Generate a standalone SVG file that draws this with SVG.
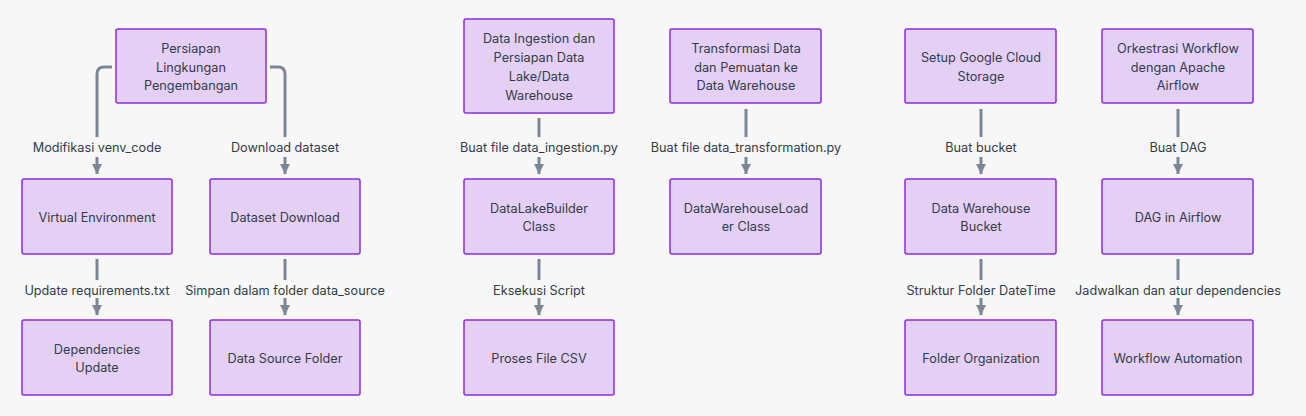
<svg xmlns="http://www.w3.org/2000/svg" width="1306" height="416" viewBox="0 0 1306 416">
<defs>
<marker id="ah" viewBox="0 0 10 10" refX="10" refY="5" markerWidth="10" markerHeight="10" markerUnits="userSpaceOnUse" orient="auto">
<path d="M0,0 L10,5 L0,10 z" fill="#7b8794"/>
</marker>
<style>
.bg{fill:#f7f7f7}
.node rect{fill:#e4d0f4;stroke:#8a2be2;stroke-width:1.5}
.node text,.lbl{font-family:Inter,"Noto Sans",sans-serif;font-size:12.7px;fill:#333b4a;text-anchor:middle;dominant-baseline:central}
.edges path{fill:none;stroke:#7b8794;stroke-width:3}
.edges path.a{marker-end:url(#ah)}
</style>
</defs>
<rect class="bg" x="0" y="0" width="1306" height="416"/>
<g id="edges" class="edges">
<path d="M112,67 L104,67 Q97,67 97,74 L97,137"/>
<path class="a" d="M97,157 L97,174"/>
<path d="M270,67 L278,67 Q285,67 285,74 L285,137"/>
<path class="a" d="M285,157 L285,174"/>
<path d="M97,259 L97,280"/>
<path class="a" d="M97,298 L97,315"/>
<path d="M285,259 L285,280"/>
<path class="a" d="M285,298 L285,315"/>
<path d="M539,118 L539,137"/>
<path class="a" d="M539,157 L539,174"/>
<path d="M539,259 L539,280"/>
<path class="a" d="M539,298 L539,315"/>
<path d="M746,109 L746,137"/>
<path class="a" d="M746,157 L746,174"/>
<path d="M981,109 L981,137"/>
<path class="a" d="M981,157 L981,174"/>
<path d="M981,259 L981,280"/>
<path class="a" d="M981,298 L981,315"/>
<path d="M1178,109 L1178,137"/>
<path class="a" d="M1178,157 L1178,174"/>
<path d="M1178,259 L1178,280"/>
<path class="a" d="M1178,298 L1178,315"/>
<text class="lbl" x="97" y="147">Modifikasi venv_code</text>
<text class="lbl" x="285" y="147">Download dataset</text>
<text class="lbl" x="97" y="290">Update requirements.txt</text>
<text class="lbl" x="285" y="290">Simpan dalam folder data_source</text>
<text class="lbl" x="539" y="147">Buat file data_ingestion.py</text>
<text class="lbl" x="539" y="290">Eksekusi Script</text>
<text class="lbl" x="746" y="147">Buat file data_transformation.py</text>
<text class="lbl" x="981" y="147">Buat bucket</text>
<text class="lbl" x="981" y="290">Struktur Folder DateTime</text>
<text class="lbl" x="1178" y="147">Buat DAG</text>
<text class="lbl" x="1178" y="290">Jadwalkan dan atur dependencies</text>
</g>
<g id="persiapan" class="node"><rect x="116" y="29" width="150" height="74" rx="2"/><text x="191" y="48">Persiapan</text><text x="191" y="67">Lingkungan</text><text x="191" y="85">Pengembangan</text></g>
<g id="venv" class="node"><rect x="22" y="179" width="150" height="75" rx="2"/><text x="97" y="217">Virtual Environment</text></g>
<g id="dataset" class="node"><rect x="210" y="179" width="150" height="75" rx="2"/><text x="285" y="217">Dataset Download</text></g>
<g id="deps" class="node"><rect x="22" y="320" width="150" height="75" rx="2"/><text x="97" y="349">Dependencies</text><text x="97" y="367">Update</text></g>
<g id="datasource" class="node"><rect x="210" y="320" width="150" height="75" rx="2"/><text x="285" y="358">Data Source Folder</text></g>
<g id="ingestion" class="node"><rect x="464" y="19" width="150" height="94" rx="2"/><text x="539" y="38">Data Ingestion dan</text><text x="539" y="57">Persiapan Data</text><text x="539" y="76">Lake/Data</text><text x="539" y="95">Warehouse</text></g>
<g id="lakebuilder" class="node"><rect x="464" y="179" width="150" height="75" rx="2"/><text x="539" y="208">DataLakeBuilder</text><text x="539" y="226">Class</text></g>
<g id="csv" class="node"><rect x="464" y="320" width="150" height="75" rx="2"/><text x="539" y="358">Proses File CSV</text></g>
<g id="transform" class="node"><rect x="670" y="29" width="151" height="74" rx="2"/><text x="746" y="48">Transformasi Data</text><text x="746" y="67">dan Pemuatan ke</text><text x="746" y="85">Data Warehouse</text></g>
<g id="whloader" class="node"><rect x="670" y="179" width="151" height="75" rx="2"/><text x="746" y="208">DataWarehouseLoad</text><text x="746" y="226">er Class</text></g>
<g id="gcs" class="node"><rect x="905" y="29" width="151" height="74" rx="2"/><text x="981" y="57">Setup Google Cloud</text><text x="981" y="76">Storage</text></g>
<g id="bucket" class="node"><rect x="905" y="179" width="151" height="75" rx="2"/><text x="981" y="208">Data Warehouse</text><text x="981" y="226">Bucket</text></g>
<g id="folderorg" class="node"><rect x="905" y="320" width="151" height="75" rx="2"/><text x="981" y="358">Folder Organization</text></g>
<g id="airflow" class="node"><rect x="1102" y="29" width="151" height="74" rx="2"/><text x="1178" y="48">Orkestrasi Workflow</text><text x="1178" y="67">dengan Apache</text><text x="1178" y="85">Airflow</text></g>
<g id="dag" class="node"><rect x="1102" y="179" width="151" height="75" rx="2"/><text x="1178" y="217">DAG in Airflow</text></g>
<g id="automation" class="node"><rect x="1102" y="320" width="151" height="75" rx="2"/><text x="1178" y="358">Workflow Automation</text></g>
</svg>
